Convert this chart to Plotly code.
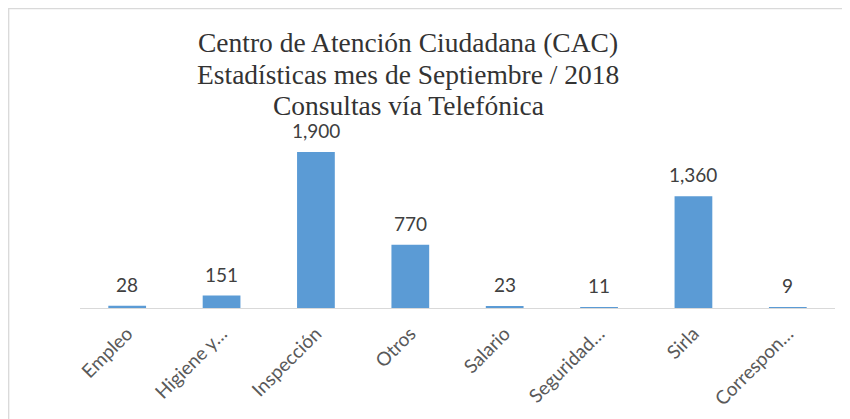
import plotly.graph_objects as go

categories = ["Empleo", "Higiene y…", "Inspección", "Otros", "Salario", "Seguridad…", "Sirla", "Correspon…"]
values = [28, 151, 1900, 770, 23, 11, 1360, 9]
value_labels = ["28", "151", "1,900", "770", "23", "11", "1,360", "9"]
title_lines = ["Centro de Atención Ciudadana (CAC)", "Estadísticas mes de Septiembre / 2018", "Consultas vía Telefónica"]

W, H = 850, 419
OFF = 8  # page body offset
L, R, T, B = 80 - OFF, 850 - 835 + OFF, 100 - OFF, 419 - 308 + OFF
pw, ph = W - L - R, H - T - B

fig = go.Figure()
fig.add_trace(go.Bar(x=categories, y=values, marker=dict(color="#5B9BD5", line=dict(width=0)),
                     hoverinfo="x+y"))

for c, v, t in zip(categories, values, value_labels):
    fig.add_annotation(x=c, y=v, text=t, showarrow=False, yanchor="bottom", yshift=8,
                       font=dict(family="Lato, Open Sans, sans-serif", size=19, color="#404040"))

# title lines
title_y = [42.5, 74, 105]
for line, ty in zip(title_lines, title_y):
    fig.add_annotation(xref="paper", yref="paper", x=(408 - OFF - L) / pw,
                       y=(H - B - (ty - OFF)) / ph,
                       text=line, showarrow=False, xanchor="center", yanchor="middle",
                       font=dict(family="Liberation Serif, serif", size=27.5, color="#333333"))

# border
fig.add_shape(type="rect", xref="paper", yref="paper",
              x0=(0.7 - L) / pw, x1=(W + 10 - L) / pw, y0=(H - B - H - 10) / ph, y1=(H - B - 0.7) / ph,
              line=dict(color="#D9D9D9", width=1.3), fillcolor="rgba(0,0,0,0)", layer="below")

fig.update_layout(
    width=W, height=H,
    margin=dict(l=L, r=R, t=T, b=B, autoexpand=False),
    paper_bgcolor="white", plot_bgcolor="white",
    bargap=0.6, showlegend=False,
    xaxis=dict(tickangle=-45, showline=True, linecolor="#D9D9D9", linewidth=1.3, ticks="",
               automargin=False, ticklabelstandoff=6,
               tickfont=dict(family="Lato, Open Sans, sans-serif", size=19, color="#595959"),
               showgrid=False),
    yaxis=dict(range=[0, 1900 * ph / 156], visible=False, showgrid=False, zeroline=False,
               automargin=False),
)

fig.write_html("out.html")
